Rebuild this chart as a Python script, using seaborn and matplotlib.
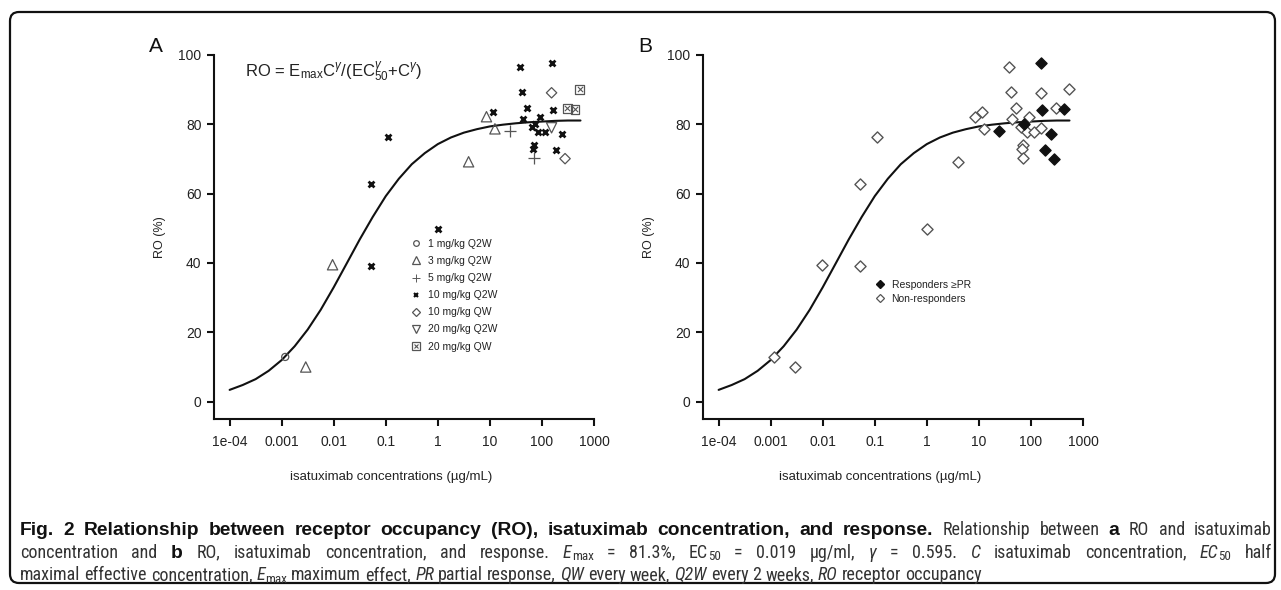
import matplotlib

matplotlib.use("Agg")
import matplotlib.pyplot as plt
import pandas as pd
import seaborn as sns
from matplotlib.lines import Line2D
from matplotlib.patches import FancyBboxPatch
from matplotlib.ticker import NullLocator
from matplotlib.transforms import IdentityTransform

# ---- values ----
conc = [0.00117, 0.0029, 0.0095, 0.052, 0.11, 0.051, 1.0, 3.9,
        38, 157, 41, 11.3, 52, 162, 44, 93, 75, 65, 83, 116, 245, 70, 67, 186,
        8.6, 12.5, 24.4, 70, 153, 278, 153, 531, 305, 432]
ro = [12.9, 10.0, 39.5, 62.9, 76.4, 39.2, 49.8, 69.2,
      96.6, 97.8, 89.3, 83.7, 84.7, 84.1, 81.6, 82.2, 80.0, 79.3, 77.7, 77.7, 77.1, 74.1, 72.9, 72.5,
      82.2, 78.7, 78.2, 70.3, 89.1, 70.1, 79.0, 90.1, 84.6, 84.3]
dose = ["1 mg/kg Q2W", "3 mg/kg Q2W", "3 mg/kg Q2W", "10 mg/kg Q2W", "10 mg/kg Q2W",
        "10 mg/kg Q2W", "10 mg/kg Q2W", "3 mg/kg Q2W"] + ["10 mg/kg Q2W"] * 16 + \
       ["3 mg/kg Q2W", "3 mg/kg Q2W", "5 mg/kg Q2W", "5 mg/kg Q2W", "10 mg/kg QW", "10 mg/kg QW",
        "20 mg/kg Q2W", "20 mg/kg QW", "20 mg/kg QW", "20 mg/kg QW"]
responder = [0, 0, 0, 0, 0, 0, 0, 0,
             0, 1, 0, 0, 0, 1, 0, 0, 1, 0, 0, 0, 1, 0, 0, 1,
             0, 0, 1, 0, 0, 1, 0, 0, 0, 1]

dose_groups = ["1 mg/kg Q2W", "3 mg/kg Q2W", "5 mg/kg Q2W", "10 mg/kg Q2W",
               "10 mg/kg QW", "20 mg/kg Q2W", "20 mg/kg QW"]
resp_labels = ["Responders \u2265PR", "Non-responders"]

# fitted Emax curve
curve_conc = [1e-4, 1.78e-4, 3.16e-4, 5.62e-4, 1e-3, 1.78e-3, 3.16e-3, 5.62e-3, 0.01,
              0.0178, 0.0316, 0.0562, 0.1, 0.178, 0.316, 0.562, 1, 1.78, 3.16, 5.62,
              10, 17.8, 31.6, 56.2, 100, 178, 316, 550]
curve_ro = [3.4, 4.8, 6.5, 8.9, 12.0, 16.0, 20.8, 26.5, 33.0, 39.9, 46.8, 53.3, 59.3,
            64.3, 68.5, 71.7, 74.3, 76.2, 77.6, 78.6, 79.4, 79.9, 80.3, 80.6, 80.8,
            81.0, 81.1, 81.1]

xticks = [1e-4, 1e-3, 1e-2, 0.1, 1, 10, 100, 1000]
xtick_labels = ["1e-04", "0.001", "0.01", "0.1", "1", "10", "100", "1000"]
yticks = [0, 20, 40, 60, 80, 100]

equation = r"RO = E$_{\rm max}$C$^{\gamma}$/(EC$^{\gamma}_{\rm 50}$+C$^{\gamma}$)"
xlabel = "isatuximab concentrations (\u00b5g/mL)"
ylabel = "RO (%)"

caption = [
    [("Fig. 2 Relationship between receptor occupancy (RO), isatuximab concentration, and response.", "b"),
     (" Relationship between ", "n"), ("a", "b"), (" RO and isatuximab", "n")],
    [("concentration and ", "n"), ("b", "b"), (" RO, isatuximab concentration, and response. ", "n"),
     ("E", "i"), ("max", "sub"), (" = 81.3%, EC", "n"), ("50", "sub"), (" = 0.019 \u00b5g/ml, ", "n"),
     ("\u03b3", "i"), (" = 0.595. ", "n"), ("C", "i"), (" isatuximab concentration, ", "n"),
     ("EC", "i"), ("50", "sub"), (" half", "n")],
    [("maximal effective concentration, ", "n"), ("E", "i"), ("max", "sub"),
     (" maximum effect, ", "n"), ("PR", "i"), (" partial response, ", "n"), ("QW", "i"),
     (" every week, ", "n"), ("Q2W", "i"), (" every 2 weeks, ", "n"), ("RO", "i"),
     (" receptor occupancy", "n")],
]

df = pd.DataFrame({"conc": conc, "ro": ro, "dose": dose, "responder": responder})
curve = pd.DataFrame({"conc": curve_conc, "ro": curve_ro})

W, H = 1281, 590
INK = "#111111"
GREY = "#555555"
TXT = "#222222"

dose_style = {
    "1 mg/kg Q2W": dict(marker="o", s=26, facecolor="none", edgecolor=GREY, linewidth=0.9),
    "3 mg/kg Q2W": dict(marker="^", s=55, facecolor="none", edgecolor=GREY, linewidth=0.9),
    "5 mg/kg Q2W": dict(marker="+", s=65, color=GREY, edgecolor=None, linewidth=0.9),
    "10 mg/kg Q2W": dict(marker="x", s=18, color=INK, edgecolor=None, linewidth=2.0),
    "10 mg/kg QW": dict(marker="D", s=28, facecolor="none", edgecolor=GREY, linewidth=0.9),
    "20 mg/kg Q2W": dict(marker="v", s=55, facecolor="none", edgecolor=GREY, linewidth=0.9),
    "20 mg/kg QW": dict(marker="s", s=40, facecolor="none", edgecolor=GREY, linewidth=0.9),
}

sns.set_theme(style="ticks")
plt.rcParams["font.family"] = ["Liberation Sans", "DejaVu Sans"]
plt.rcParams["mathtext.fontset"] = "custom"
plt.rcParams["mathtext.rm"] = "Liberation Sans"
plt.rcParams["mathtext.it"] = "Liberation Sans:italic"
plt.rcParams["mathtext.bf"] = "Liberation Sans:bold"

fig = plt.figure(figsize=(W / 100, H / 100), dpi=100)
ax_a = fig.add_axes([214 / W, 171 / H, 380 / W, 364 / H])
ax_b = fig.add_axes([703 / W, 171 / H, 380 / W, 364 / H])


def style_axis(ax):
    ax.set_xscale("log")
    ax.set_xlim(10 ** -4.3, 1000)
    ax.set_ylim(-5, 100)
    ax.set_xticks(xticks)
    ax.set_xticklabels(xtick_labels)
    ax.set_yticks(yticks)
    ax.xaxis.set_minor_locator(NullLocator())
    sns.despine(ax=ax)
    for side in ("left", "bottom"):
        ax.spines[side].set_linewidth(1.5)
        ax.spines[side].set_color(INK)
    ax.tick_params(length=5, width=1.5, labelsize=10, color=INK, labelcolor=TXT)
    ax.tick_params(axis="x", pad=6.5)
    ax.tick_params(axis="y", pad=4)
    ax.set_xlabel(xlabel, fontsize=9.5, color=TXT)
    ax.set_ylabel(ylabel, fontsize=9, color=TXT)
    ax.xaxis.set_label_coords(0.465, -(471 - 419) / 364)
    ax.yaxis.set_label_coords(-(214 - 166) / 380, 0.5)
    sns.lineplot(data=curve, x="conc", y="ro", color=INK, linewidth=1.5, ax=ax, legend=False)


# ---- panel A: by dose group ----
style_axis(ax_a)
for g in dose_groups:
    sub = df[df["dose"] == g]
    sns.scatterplot(data=sub, x="conc", y="ro", ax=ax_a, legend=False, zorder=3, **dose_style[g])
    if g == "20 mg/kg QW":
        sns.scatterplot(data=sub, x="conc", y="ro", ax=ax_a, legend=False, zorder=4,
                        marker="x", s=14, color=GREY, edgecolor=None, linewidth=0.8)

handles = []
for g in dose_groups:
    st = dose_style[g]
    hollow = st.get("facecolor") == "none"
    h = Line2D([], [], ls="none", marker=st["marker"], markersize=st["s"] ** 0.5 * 0.8,
               markerfacecolor="none" if hollow else st.get("color"),
               markeredgecolor=st.get("edgecolor") or st.get("color"),
               markeredgewidth=st["linewidth"] * (1 if hollow else 0.75))
    if g == "20 mg/kg QW":
        h = (h, Line2D([], [], ls="none", marker="x", markersize=3, markeredgecolor=GREY,
                       markeredgewidth=0.8))
    handles.append(h)
ax_a.legend(handles, dose_groups, loc="upper left", bbox_to_anchor=(412 / W, 1 - 239 / H),
            bbox_transform=fig.transFigure, frameon=False, fontsize=7.5, handlelength=0.8,
            handletextpad=0.7, labelspacing=0.68, borderpad=0, borderaxespad=0,
            labelcolor=TXT)
fig.text(245 / W, 1 - 72 / H, equation, fontsize=12, color=TXT, va="center", ha="left")

# ---- panel B: responders vs non-responders ----
style_axis(ax_b)
sns.scatterplot(data=df[df["responder"] == 0], x="conc", y="ro", ax=ax_b, legend=False, zorder=3,
                marker="D", s=32, facecolor="white", edgecolor=GREY, linewidth=1.0)
sns.scatterplot(data=df[df["responder"] == 1], x="conc", y="ro", ax=ax_b, legend=False, zorder=4,
                marker="D", s=32, color=INK, edgecolor=INK, linewidth=1.0)
b_handles = [
    Line2D([], [], ls="none", marker="D", markersize=4.5, markerfacecolor=INK, markeredgecolor=INK),
    Line2D([], [], ls="none", marker="D", markersize=4.5, markerfacecolor="white",
           markeredgecolor=GREY, markeredgewidth=0.9),
]
ax_b.legend(b_handles, resp_labels, loc="upper left", bbox_to_anchor=(876 / W, 1 - 280 / H),
            bbox_transform=fig.transFigure, frameon=False, fontsize=7.5, handlelength=0.8,
            handletextpad=0.7, labelspacing=0.35, borderpad=0, borderaxespad=0,
            labelcolor=TXT)

for ax, letter in ((ax_a, "A"), (ax_b, "B")):
    pos = ax.get_position()
    fig.text(pos.x0 - 58 / W, 1 - 46 / H, letter, fontsize=15, color=INK, ha="center", va="center")

# ---- caption drawn as styled word runs, first two lines justified ----
renderer = fig.canvas.get_renderer()
narrow = ["Roboto Condensed", "Open Sans Condensed", "Liberation Sans Narrow", "Liberation Sans",
          "DejaVu Sans"]


def run_kw(style, size):
    kw = dict(fontsize=size * 0.94, family=narrow, color="#333333")
    if style == "b":
        kw.update(fontsize=size, fontweight="bold", color=INK, family=["Liberation Sans", "DejaVu Sans"])
    elif style == "i":
        kw.update(fontstyle="italic")
    elif style == "sub":
        kw.update(fontsize=size * 0.68)
    return kw


def width_of(text, kw):
    t1 = fig.text(0, 0, text + "|", **kw)
    t2 = fig.text(0, 0, "|", **kw)
    w = t1.get_window_extent(renderer).width - t2.get_window_extent(renderer).width
    t1.remove()
    t2.remove()
    return w


def tokens(line):
    out = []
    for t, s in line:
        parts = t.split(" ")
        for k, p in enumerate(parts):
            if k > 0:
                out.append((None, s))
            if p:
                out.append((p, s))
    return out


def line_width(toks, size):
    sp = width_of(" ", run_kw("n", size))
    return sum(sp if p is None else width_of(p, run_kw(s, size)) for p, s in toks)


base = 10
cap_size = base * (893 - 20) / width_of(caption[0][0][0], run_kw("b", base))
space_w = width_of(" ", run_kw("n", cap_size))
left, right = 20, 1272

for i, line in enumerate(caption):
    toks = tokens(line)
    n_sp = sum(1 for p, _ in toks if p is None)
    extra = 0
    if i < 2:
        extra = (right - left - line_width(toks, cap_size)) / n_sp
    x = left
    y = 535 + i * 22.5
    for p, s in toks:
        if p is None:
            x += space_w + extra
            continue
        kw = run_kw(s, cap_size)
        dy = 3 if s == "sub" else 0
        fig.text(x / W, 1 - (y + dy) / H, p, va="baseline", ha="left", **kw)
        x += width_of(p, kw)

frame = FancyBboxPatch((10, 7), 1265, 571, boxstyle="round,pad=0,rounding_size=9",
                       transform=IdentityTransform(), fill=False, linewidth=1.6, edgecolor=INK)
fig.add_artist(frame)

fig.savefig("out.png", dpi=100)
